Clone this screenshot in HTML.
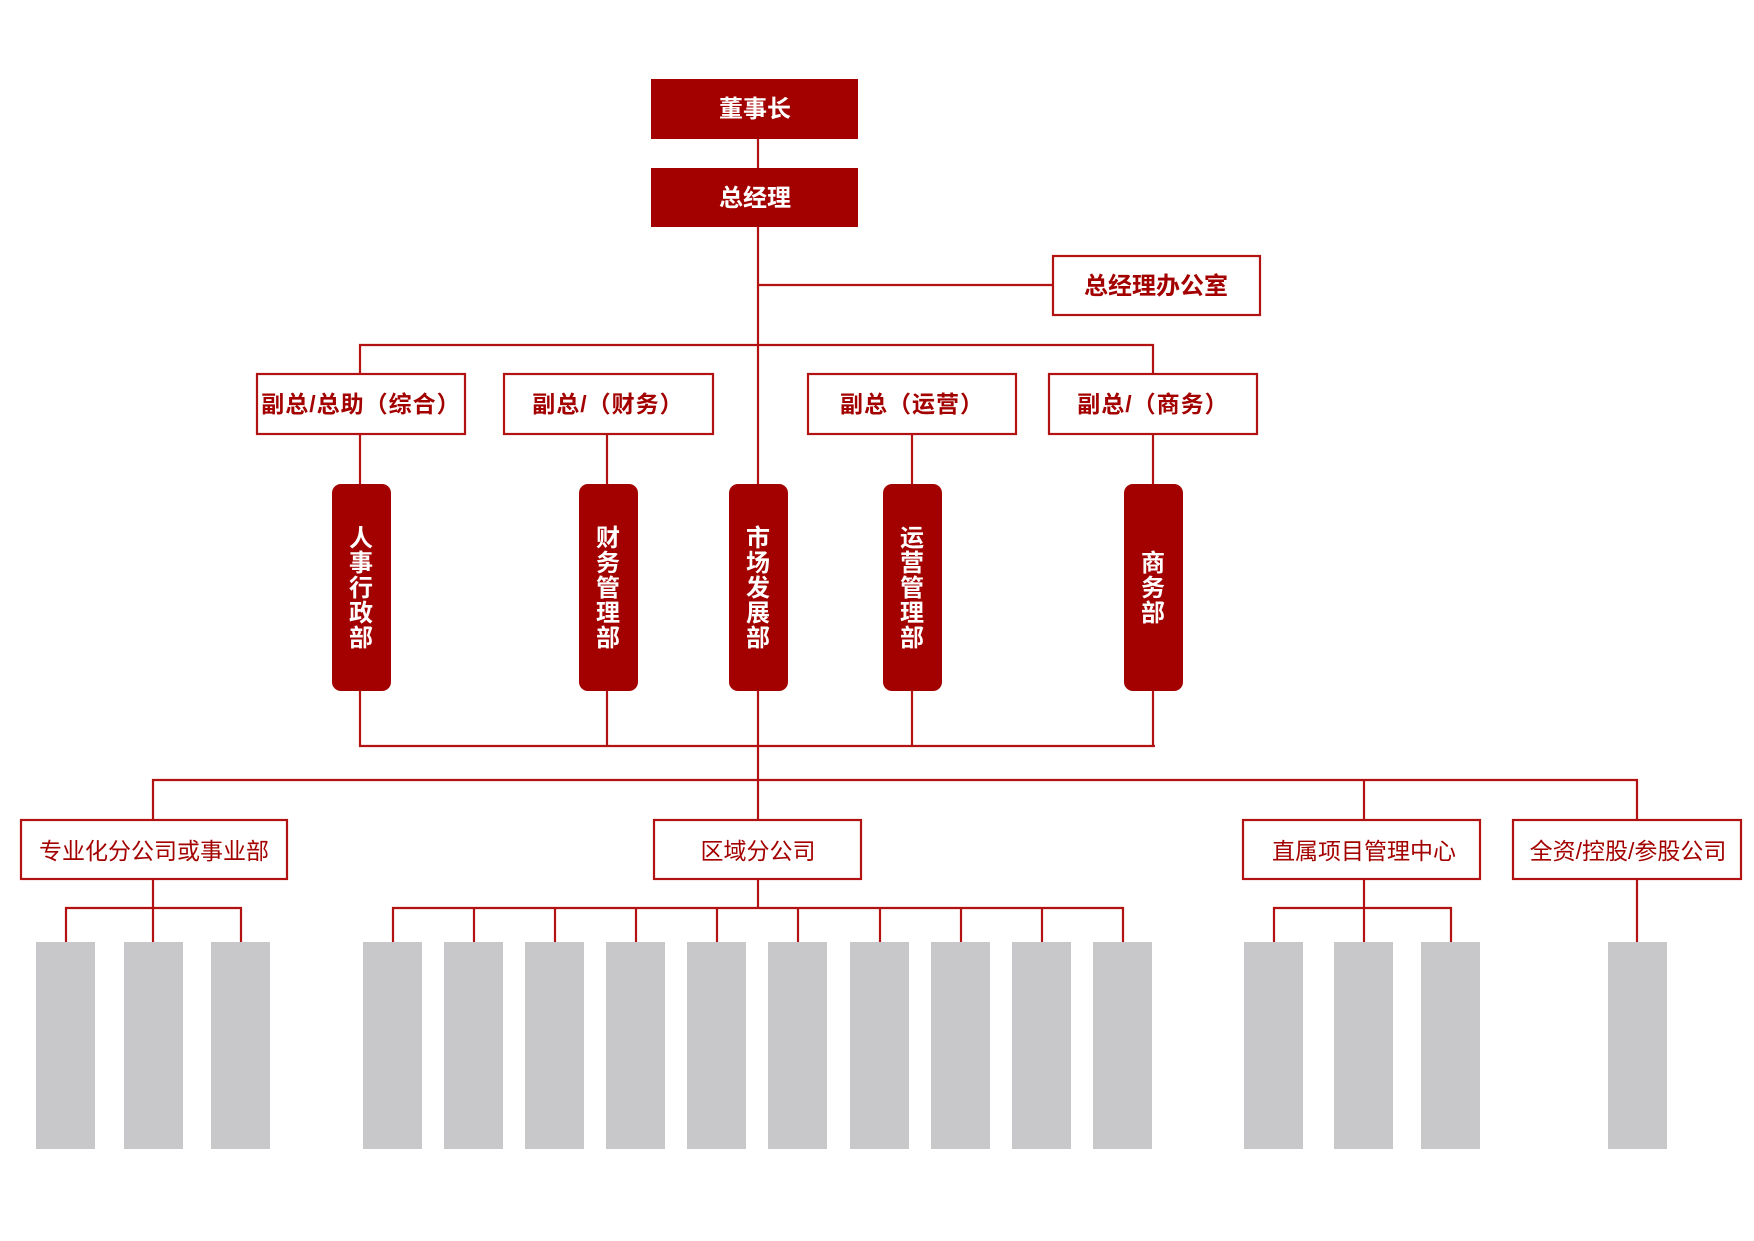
<!DOCTYPE html>
<html><head><meta charset="utf-8"><style>
html,body{margin:0;padding:0;background:#fff;}
svg{display:block;}
text{font-family:"Liberation Sans","Noto Sans CJK SC",sans-serif;}
</style></head><body>
<svg width="1754" height="1241" viewBox="0 0 1754 1241" xmlns="http://www.w3.org/2000/svg">
<g stroke="#b31212" stroke-width="2.2" fill="none">
<line x1="758" y1="139" x2="758" y2="168"/>
<line x1="758" y1="227" x2="758" y2="820"/>
<line x1="758" y1="285" x2="1053" y2="285"/>
<polyline points="360,374 360,345 1153,345 1153,374"/>
<line x1="360" y1="434" x2="360" y2="484"/>
<line x1="607" y1="434" x2="607" y2="484"/>
<line x1="912" y1="434" x2="912" y2="484"/>
<line x1="1153" y1="434" x2="1153" y2="484"/>
<polyline points="360,690 360,746 1155,746"/>
<line x1="607" y1="690" x2="607" y2="746"/>
<line x1="912" y1="690" x2="912" y2="746"/>
<line x1="1153" y1="690" x2="1153" y2="746"/>
<polyline points="153,820 153,780 1637,780 1637,820"/>
<line x1="1364" y1="780" x2="1364" y2="820"/>
<line x1="153" y1="879" x2="153" y2="942"/>
<polyline points="66,942 66,908 241,908 241,942"/>
<line x1="758" y1="879" x2="758" y2="908"/>
<polyline points="393,942 393,908 1123,908 1123,942"/>
<line x1="474" y1="908" x2="474" y2="942"/>
<line x1="555" y1="908" x2="555" y2="942"/>
<line x1="636" y1="908" x2="636" y2="942"/>
<line x1="717" y1="908" x2="717" y2="942"/>
<line x1="798" y1="908" x2="798" y2="942"/>
<line x1="880" y1="908" x2="880" y2="942"/>
<line x1="961" y1="908" x2="961" y2="942"/>
<line x1="1042" y1="908" x2="1042" y2="942"/>
<line x1="1364" y1="879" x2="1364" y2="942"/>
<polyline points="1274,942 1274,908 1451,908 1451,942"/>
<line x1="1637" y1="879" x2="1637" y2="946"/>
</g>
<g fill="#a30000">
<rect x="651" y="79" width="207" height="60"/>
<rect x="651" y="168" width="207" height="59"/>
<rect x="332" y="484" width="59" height="207" rx="9"/>
<rect x="579" y="484" width="59" height="207" rx="9"/>
<rect x="729" y="484" width="59" height="207" rx="9"/>
<rect x="883" y="484" width="59" height="207" rx="9"/>
<rect x="1124" y="484" width="59" height="207" rx="9"/>
</g>
<g fill="#fff" stroke="#b31212" stroke-width="2.2">
<rect x="1053" y="256" width="207" height="59"/>
<rect x="257" y="374" width="208" height="60"/>
<rect x="504" y="374" width="209" height="60"/>
<rect x="808" y="374" width="208" height="60"/>
<rect x="1049" y="374" width="208" height="60"/>
<rect x="21" y="820" width="266" height="59"/>
<rect x="654" y="820" width="207" height="59"/>
<rect x="1243" y="820" width="237" height="59"/>
<rect x="1513" y="820" width="228" height="59"/>
</g>
<g fill="#c8c8ca">
<rect x="36" y="942" width="59" height="207"/>
<rect x="124" y="942" width="59" height="207"/>
<rect x="211" y="942" width="59" height="207"/>
<rect x="363" y="942" width="59" height="207"/>
<rect x="444" y="942" width="59" height="207"/>
<rect x="525" y="942" width="59" height="207"/>
<rect x="606" y="942" width="59" height="207"/>
<rect x="687" y="942" width="59" height="207"/>
<rect x="768" y="942" width="59" height="207"/>
<rect x="850" y="942" width="59" height="207"/>
<rect x="931" y="942" width="59" height="207"/>
<rect x="1012" y="942" width="59" height="207"/>
<rect x="1093" y="942" width="59" height="207"/>
<rect x="1244" y="942" width="59" height="207"/>
<rect x="1334" y="942" width="59" height="207"/>
<rect x="1421" y="942" width="59" height="207"/>
<rect x="1608" y="942" width="59" height="207"/>
</g>
<g font-weight="bold" font-size="24" text-anchor="middle" fill="#fff">
<text x="755" y="117">董事长</text>
<text x="755" y="206">总经理</text>
</g>
<g font-weight="bold" font-size="23" text-anchor="middle" fill="#a30000">
<text x="1156" y="294" font-size="24">总经理办公室</text>
<text x="361" y="412" letter-spacing="1">副总/总助（综合）</text>
<text x="608" y="412" letter-spacing="1">副总/（财务）</text>
<text x="912" y="412" letter-spacing="1">副总（运营）</text>
<text x="1153" y="412" letter-spacing="1">副总/（商务）</text>
</g>
<g font-size="23" text-anchor="middle" fill="#a30000">
<text x="154" y="859">专业化分公司或事业部</text>
<text x="758" y="859">区域分公司</text>
<text x="1364" y="859">直属项目管理中心</text>
<text x="1628" y="859">全资/控股/参股公司</text>
</g>
<g font-weight="bold" font-size="24" text-anchor="middle" fill="#fff">
<text x="361" y="546">人</text><text x="361" y="571">事</text><text x="361" y="596">行</text><text x="361" y="621">政</text><text x="361" y="646">部</text>
<text x="608" y="546">财</text><text x="608" y="571">务</text><text x="608" y="596">管</text><text x="608" y="621">理</text><text x="608" y="646">部</text>
<text x="758" y="546">市</text><text x="758" y="571">场</text><text x="758" y="596">发</text><text x="758" y="621">展</text><text x="758" y="646">部</text>
<text x="912" y="546">运</text><text x="912" y="571">营</text><text x="912" y="596">管</text><text x="912" y="621">理</text><text x="912" y="646">部</text>
<text x="1153" y="571">商</text><text x="1153" y="596">务</text><text x="1153" y="621">部</text>
</g>
</svg>
</body></html>
